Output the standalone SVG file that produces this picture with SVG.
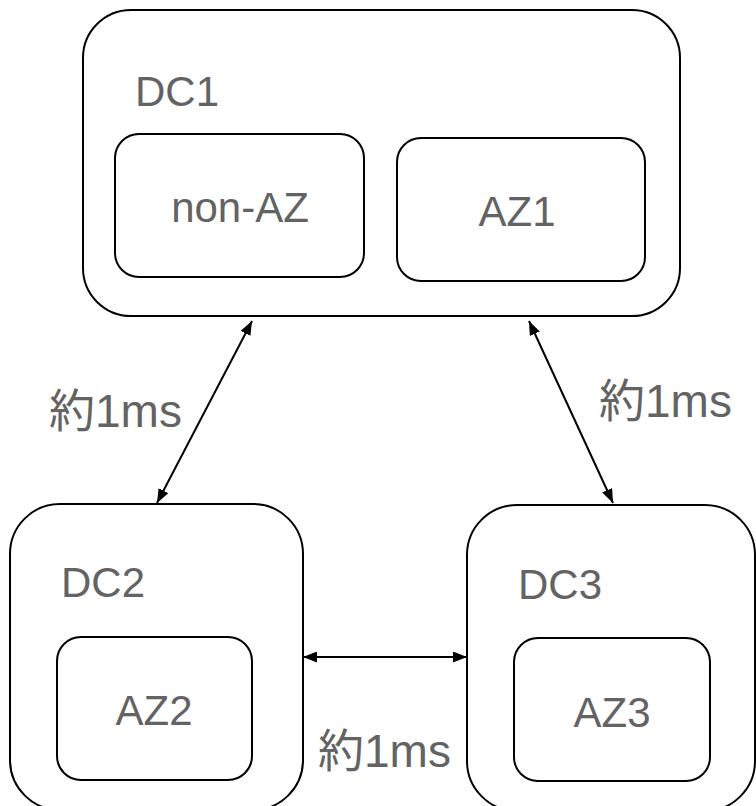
<svg xmlns="http://www.w3.org/2000/svg" width="756" height="806" viewBox="0 0 756 806">
<defs>
<marker id="ah" viewBox="0 0 14 11" refX="14" refY="5.5" markerWidth="14" markerHeight="11" markerUnits="userSpaceOnUse" orient="auto-start-reverse">
<path d="M0,0 L14,5.5 L0,11 Z" fill="#000"/>
</marker>
</defs>
<style>
.box{fill:#fff;stroke:#000;stroke-width:2}
.t{font-family:"Liberation Sans",Arial,"Noto Sans CJK JP",sans-serif;font-size:42px;fill:#636363}
.l{font-size:46px}
.c{stroke:#000;stroke-width:2;fill:none;marker-start:url(#ah);marker-end:url(#ah)}
</style>
<rect width="756" height="806" fill="#fff"/>
<g id="DC1">
<rect class="box" x="83" y="10" width="597" height="306" rx="48"/>
<text class="t" x="135" y="106">DC1</text>
</g>
<g id="nonAZ">
<rect class="box" x="115" y="134" width="249" height="143" rx="24"/>
<text class="t" x="240" y="222" text-anchor="middle">non-AZ</text>
</g>
<g id="AZ1">
<rect class="box" x="397" y="138" width="248" height="143" rx="24"/>
<text class="t" x="517" y="226" text-anchor="middle">AZ1</text>
</g>
<g id="DC2">
<rect class="box" x="10" y="504" width="293" height="306" rx="50"/>
<text class="t" x="61" y="597">DC2</text>
</g>
<g id="AZ2">
<rect class="box" x="57" y="637" width="195" height="143" rx="24"/>
<text class="t" x="154" y="725" text-anchor="middle">AZ2</text>
</g>
<g id="DC3">
<rect class="box" x="467" y="505" width="288" height="306" rx="50"/>
<text class="t" x="518" y="599">DC3</text>
</g>
<g id="AZ3">
<rect class="box" x="514" y="638" width="196" height="143" rx="24"/>
<text class="t" x="612" y="727" text-anchor="middle">AZ3</text>
</g>
<g id="connectors">
<line class="c" x1="252" y1="321" x2="157" y2="503"/>
<line class="c" x1="529" y1="321" x2="613" y2="503"/>
<line class="c" x1="303" y1="657" x2="467" y2="657"/>
<text class="t l" x="49" y="427">約1ms</text>
<text class="t l" x="599" y="417">約1ms</text>
<text class="t l" x="318" y="767">約1ms</text>
</g>
</svg>
